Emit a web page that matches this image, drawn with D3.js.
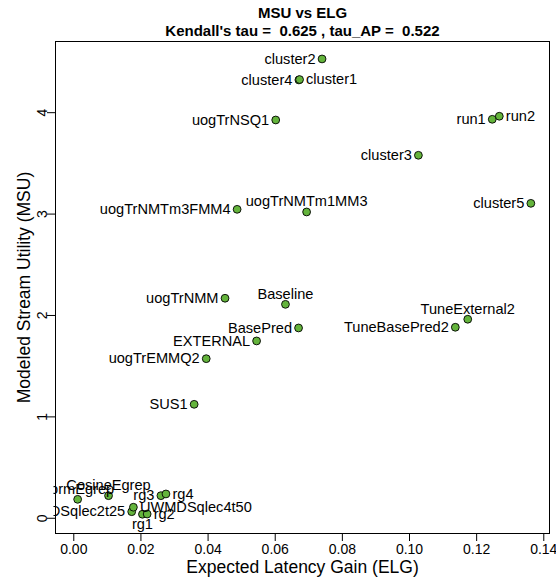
<!DOCTYPE html>
<html>
<head>
<meta charset="utf-8">
<script src="https://cdn.jsdelivr.net/npm/d3@7/dist/d3.min.js"></script>
<style>
  html, body { margin: 0; padding: 0; background: #fff; }
  svg { display: block; font-family: "Liberation Sans", Arial, Helvetica, sans-serif; }
</style>
</head>
<body>
<svg id="chart" width="556" height="579"></svg>
<script>
// ---- data ----
const names = ["cluster2", "cluster4", "cluster1", "uogTrNSQ1", "run1", "run2", "cluster3", "cluster5",
  "uogTrNMTm1MM3", "uogTrNMTm3FMM4", "uogTrNMM", "Baseline", "BasePred", "EXTERNAL", "uogTrEMMQ2",
  "SUS1", "TuneBasePred2", "TuneExternal2", "FormEgrep", "CosineEgrep", "UWMDSqlec2t25",
  "UWMDSqlec4t50", "rg1", "rg2", "rg3", "rg4"];
const elg = [0.0741, 0.0672, 0.0674, 0.0603, 0.1248, 0.1269, 0.1028, 0.1363,
  0.0695, 0.0488, 0.0452, 0.0632, 0.0671, 0.0546, 0.0396,
  0.0360, 0.1138, 0.1175, 0.0013, 0.0105, 0.0174,
  0.0179, 0.0206, 0.0220, 0.0261, 0.0276];
const msu = [4.525, 4.318, 4.322, 3.923, 3.930, 3.960, 3.575, 3.101,
  3.016, 3.042, 2.165, 2.105, 1.872, 1.744, 1.569,
  1.119, 1.879, 1.958, 0.182, 0.218, 0.060,
  0.104, 0.035, 0.037, 0.218, 0.235];
// label side: 1 below, 2 left, 3 above, 4 right
const labelPos = [2, 2, 4, 2, 2, 4, 2, 2,
  3, 2, 2, 3, 2, 2, 2,
  2, 2, 3, 3, 3, 2,
  4, 1, 4, 2, 4];
const xTicks = [0, 0.02, 0.04, 0.06, 0.08, 0.10, 0.12, 0.14];
const yTicks = [0, 1, 2, 3, 4];
const titleLines = ["MSU vs ELG", "Kendall's tau =  0.625 , tau_AP =  0.522"];
const xTitle = "Expected Latency Gain (ELG)";
const yTitle = "Modeled Stream Utility (MSU)";

// ---- layout ----
const L = 55, R = 550, T = 41, B = 534;
const svg = d3.select("#chart");
const x = d3.scaleLinear().domain([-0.00545, 0.1420]).range([L, R]);
const y = d3.scaleLinear().domain([-0.16, 4.702]).range([B, T]);

svg.append("defs").append("clipPath").attr("id", "plotclip")
  .append("rect").attr("x", L - 1.5).attr("y", T).attr("width", R - L + 1.5).attr("height", B - T);

// axes
const xAxis = d3.axisBottom(x).tickValues(xTicks).tickFormat(d3.format(".2f")).tickSize(7).tickPadding(3);
const gx = svg.append("g").attr("transform", `translate(0,${B})`).call(xAxis);
gx.select(".domain").remove();
gx.selectAll(".tick line").attr("stroke", "#000");
gx.selectAll(".tick text").attr("font-size", 14).attr("fill", "#000").attr("font-family", null)
  .attr("dy", null).attr("y", 20);

const yAxis = d3.axisLeft(y).tickValues(yTicks).tickFormat(d3.format("d")).tickSize(8);
const gy = svg.append("g").attr("transform", `translate(${L},0)`).call(yAxis);
gy.select(".domain").remove();
gy.selectAll(".tick line").attr("stroke", "#000");
gy.selectAll(".tick text").attr("font-size", 14).attr("fill", "#000").attr("font-family", null)
  .attr("x", null).attr("dy", null)
  .attr("text-anchor", "middle")
  .attr("transform", "translate(-8.5,0) rotate(-90)");

// box
svg.append("rect").attr("x", L + 0.5).attr("y", T + 0.5).attr("width", R - L - 1).attr("height", B - T - 1)
  .attr("fill", "none").attr("stroke", "#000").attr("stroke-width", 1);

// points
const data = names.map((n, i) => ({ name: n, x: elg[i], y: msu[i], pos: labelPos[i] }));
const plot = svg.append("g").attr("clip-path", "url(#plotclip)");
plot.selectAll("circle").data(data).enter().append("circle")
  .attr("cx", d => x(d.x)).attr("cy", d => y(d.y)).attr("r", 3.9)
  .attr("fill", "#64b43c").attr("stroke", "#000").attr("stroke-width", 0.9);

const off = 6.5;
plot.selectAll("text.lab").data(data).enter().append("text").attr("class", "lab")
  .attr("font-size", 14.6).attr("fill", "#000")
  .attr("x", d => d.pos === 2 ? x(d.x) - off : d.pos === 4 ? x(d.x) + off : x(d.x))
  .attr("y", d => d.pos === 3 ? y(d.y) - 5.5 : d.pos === 1 ? y(d.y) + 14.5 : y(d.y) + 4.8)
  .attr("text-anchor", d => d.pos === 2 ? "end" : d.pos === 4 ? "start" : "middle")
  .text(d => d.name);

// titles
const cx = (L + R) / 2;
svg.append("text").attr("x", cx).attr("y", 18).attr("text-anchor", "middle")
  .attr("font-size", 15).attr("font-weight", "bold").text(titleLines[0]);
svg.append("text").attr("x", cx).attr("y", 36).attr("text-anchor", "middle")
  .attr("font-size", 15).attr("font-weight", "bold").attr("xml:space", "preserve")
  .style("white-space", "pre").text(titleLines[1]);
svg.append("text").attr("x", cx).attr("y", 572.5).attr("text-anchor", "middle")
  .attr("font-size", 17.5).text(xTitle);
svg.append("text").attr("transform", `translate(29.5,${(T + B) / 2}) rotate(-90)`).attr("text-anchor", "middle")
  .attr("font-size", 17.5).text(yTitle);
</script>
</body>
</html>
